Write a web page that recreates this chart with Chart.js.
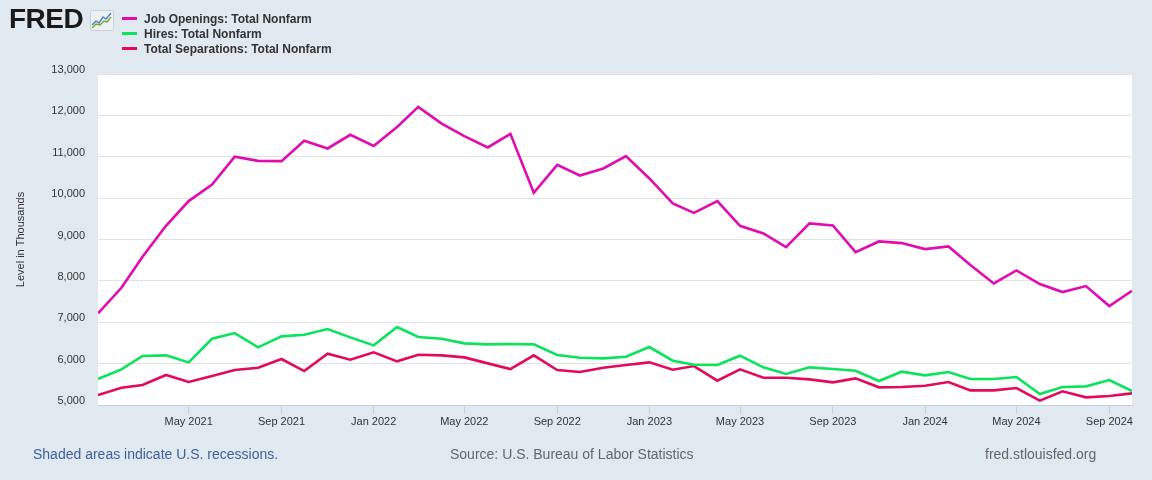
<!DOCTYPE html>
<html>
<head>
<meta charset="utf-8">
<script src="https://cdn.jsdelivr.net/npm/chart.js@4.4.1/dist/chart.umd.min.js"></script>
<style>
  html, body { margin: 0; padding: 0; }
  body { width: 1152px; height: 480px; background: #e1e9f0; position: relative; overflow: hidden;
         font-family: "Liberation Sans", Arial, sans-serif; }
  #wrap { position: absolute; left: 0; top: 0; width: 1152px; height: 480px; }
  .logo { position: absolute; left: 9px; top: 3px; font-size: 28px; font-weight: bold; color: #1a1a1a; letter-spacing: -0.5px; }
  .logo svg { position: absolute; left: 81px; top: 7px; }
  .leg { position: absolute; left: 122px; font-size: 12px; color: #333; font-weight: bold; }
  .leg span { display: inline-block; width: 15px; height: 3px; margin-right: 7px; vertical-align: middle; position: relative; top: -1px; }
  .foot { position: absolute; top: 446px; font-size: 14px; }
</style>
</head>
<body>
<div id="wrap"><canvas id="jolts" width="1152" height="480"></canvas></div>
<div class="logo">FRED<svg width="24" height="21" viewBox="0 0 24 21">
  <rect x="0.5" y="0.5" width="23" height="20" rx="2" fill="#eef1f4" stroke="#c9d1d9"/>
  <polyline points="2,15 6,11 9,13 13,7 16,9 21,3" fill="none" stroke="#4a86c5" stroke-width="1.4"/>
  <polyline points="2,18 6,14 10,15 14,11 17,12 21,7" fill="none" stroke="#7aa33b" stroke-width="1.4"/>
</svg></div>
<div class="leg" style="top:12px"><span style="background:#e00cb0"></span>Job Openings: Total Nonfarm</div>
<div class="leg" style="top:27px"><span style="background:#0ae35c"></span>Hires: Total Nonfarm</div>
<div class="leg" style="top:42px"><span style="background:#e20a5c"></span>Total Separations: Total Nonfarm</div>
<div class="foot" style="left:33px;color:#3d5f9e">Shaded areas indicate U.S. recessions.</div>
<div class="foot" style="left:450px;color:#666">Source: U.S. Bureau of Labor Statistics</div>
<div class="foot" style="left:985px;color:#666">fred.stlouisfed.org</div>
<script>
var months = [
  '2021-01','2021-02','2021-03','2021-04','2021-05','2021-06','2021-07','2021-08','2021-09','2021-10','2021-11','2021-12',
  '2022-01','2022-02','2022-03','2022-04','2022-05','2022-06','2022-07','2022-08','2022-09','2022-10','2022-11','2022-12',
  '2023-01','2023-02','2023-03','2023-04','2023-05','2023-06','2023-07','2023-08','2023-09','2023-10','2023-11','2023-12',
  '2024-01','2024-02','2024-03','2024-04','2024-05','2024-06','2024-07','2024-08','2024-09','2024-10'
];
var jobOpenings = [7215, 7833, 8582, 9331, 9928, 10330, 11000, 10900, 10894, 11385, 11200, 11530,
  11260, 11720, 12205, 11800, 11500, 11224, 11554, 10128, 10805, 10547, 10716, 11014,
  10475, 9872, 9645, 9928, 9331, 9147, 8816, 9388, 9340, 8696, 8953, 8913,
  8768, 8833, 8382, 7939, 8253, 7923, 7729, 7874, 7391, 7762];
var hires = [5628, 5862, 6184, 6200, 6030, 6602, 6739, 6393, 6659, 6699, 6836, 6635,
  6441, 6884, 6643, 6602, 6490, 6465, 6473, 6465, 6208, 6143, 6127, 6167,
  6401, 6071, 5974, 5966, 6192, 5910, 5749, 5910, 5870, 5829, 5580, 5805,
  5717, 5797, 5628, 5628, 5676, 5266, 5435, 5451, 5604, 5338];
var separations = [5242, 5419, 5483, 5725, 5556, 5700, 5845, 5902, 6111, 5821, 6240, 6095,
  6272, 6055, 6216, 6200, 6151, 6006, 5870, 6200, 5845, 5797, 5902, 5966,
  6030, 5853, 5942, 5588, 5862, 5660, 5660, 5620, 5548, 5644, 5427, 5435,
  5467, 5556, 5354, 5354, 5410, 5105, 5330, 5185, 5217, 5282];
var tickMonths = ['2021-05','2021-09','2022-01','2022-05','2022-09','2023-01','2023-05','2023-09','2024-01','2024-05','2024-09'];
var monthNames = ['Jan','Feb','Mar','Apr','May','Jun','Jul','Aug','Sep','Oct','Nov','Dec'];

function toTs(m) {
  var p = m.split('-');
  return Date.UTC(+p[0], +p[1] - 1, 1);
}
function series(vals) {
  return vals.map(function (v, i) { return { x: toTs(months[i]), y: v }; });
}

var ctx = document.getElementById('jolts').getContext('2d');
var data = {
  datasets: [{
    label: 'Job Openings: Total Nonfarm',
    data: series(jobOpenings),
    borderColor: '#e00cb0'
  }, {
    label: 'Hires: Total Nonfarm',
    data: series(hires),
    borderColor: '#0ae35c'
  }, {
    label: 'Total Separations: Total Nonfarm',
    data: series(separations),
    borderColor: '#e20a5c'
  }]
};

var plotBg = {
  id: 'plotBg',
  beforeDraw: function (chart) {
    var a = chart.chartArea, c = chart.ctx;
    c.save();
    c.fillStyle = '#ffffff';
    c.fillRect(a.left, a.top, a.right - a.left, a.bottom - a.top);
    c.restore();
  }
};

var options = {
  responsive: false,
  animation: false,
  layout: { padding: { left: 14, right: 20, top: 74, bottom: 45 } },
  elements: { line: { borderWidth: 2.6, tension: 0 }, point: { radius: 0 } },
  plugins: { legend: { display: false }, tooltip: { enabled: false } },
  scales: {
    x: {
      type: 'linear',
      min: toTs(months[0]),
      max: toTs(months[months.length - 1]),
      afterBuildTicks: function (scale) {
        scale.ticks = tickMonths.map(function (m) { return { value: toTs(m) }; });
      },
      afterFit: function (scale) { scale.height = 30; },
      ticks: {
        autoSkip: false, maxRotation: 0, padding: 1,
        color: '#333', font: { family: 'Liberation Sans', size: 11 },
        callback: function (v) {
          var d = new Date(v);
          return monthNames[d.getUTCMonth()] + ' ' + d.getUTCFullYear();
        }
      },
      grid: { drawOnChartArea: false, drawTicks: true, tickLength: 9, color: '#c3d0e0' },
      border: { color: '#c3d0e0' }
    },
    y: {
      min: 5000, max: 13000,
      afterFit: function (scale) { scale.width = 84; },
      ticks: {
        stepSize: 1000, padding: 13, labelOffset: -4,
        color: '#333', font: { family: 'Liberation Sans', size: 11 },
        callback: function (v) { return v.toLocaleString('en-US'); }
      },
      grid: { color: '#e2e2e2', drawTicks: false, lineWidth: 1 },
      border: { display: false },
      title: {
        display: true, text: 'Level in Thousands', padding: { top: 0, bottom: 0 },
        color: '#333', font: { family: 'Liberation Sans', size: 11 }
      }
    }
  }
};

var myChart = new Chart(ctx, {
  type: 'line',
  data: data,
  options: options,
  plugins: [plotBg]
});
</script>
</body>
</html>
